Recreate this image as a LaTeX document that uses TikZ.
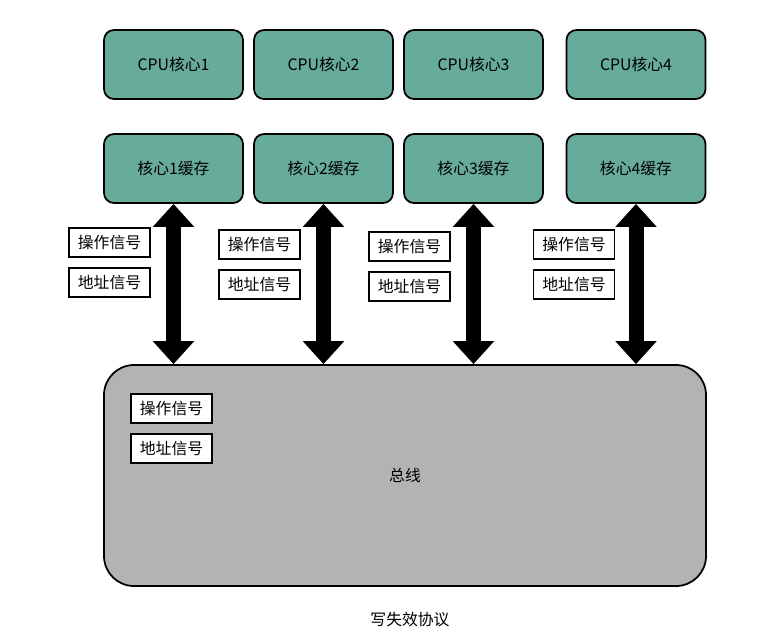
\documentclass[tikz,border=0pt]{standalone}
\usepackage{fontspec}
\newfontfamily\cjk{Noto Sans CJK SC}
\usetikzlibrary{arrows.meta}
\definecolor{coregreen}{HTML}{67AB9A}
\definecolor{busgray}{HTML}{B3B3B3}
\tikzset{
  core/.style={draw, line width=1pt, rounded corners=0.2cm, fill=coregreen,
    minimum width=2.78cm, minimum height=1.38cm, inner sep=0pt},
  sig/.style={draw, line width=1pt, fill=white,
    minimum width=1.62cm, minimum height=0.58cm, inner sep=0pt},
  bus/.style={draw, line width=1pt, rounded corners=0.6cm, fill=busgray,
    minimum width=12.04cm, minimum height=4.42cm, inner sep=0pt},
  bigarrow/.style={line width=0.3cm,
    {Triangle[width=0.8cm,length=0.46cm]}-{Triangle[width=0.8cm,length=0.46cm]}}
}
\begin{document}
\begin{tikzpicture}[font=\cjk\fontsize{9}{11}\selectfont]
    \useasboundingbox (0,0) rectangle (15.5,-12.86);
    % Define node positions
    \node[core] (P1) at (3.47, -1.29) {CPU核心1}; \node[core] (P2) at (6.47, -1.29) {CPU核心2};
    \node[core] (P3) at (9.47, -1.29) {CPU核心3}; \node[core] (P4) at (12.72, -1.29) {CPU核心4};
    \node[core] (C1) at (3.47, -3.37) {核心1缓存}; \node[core] (C2) at (6.47, -3.37) {核心2缓存};
    \node[core] (C3) at (9.47, -3.37) {核心3缓存}; \node[core] (C4) at (12.72, -3.37) {核心4缓存};
    \node[bus] (B) at (8.10, -9.51) {总线};

    % Signals
    \node[sig] (O1) at (2.19, -4.85) {操作信号}; \node[sig] (A1) at (2.19, -5.65) {地址信号};
    \node[sig] (O2) at (5.19, -4.89) {操作信号}; \node[sig] (A2) at (5.19, -5.69) {地址信号};
    \node[sig] (O3) at (8.19, -4.93) {操作信号}; \node[sig] (A3) at (8.19, -5.73) {地址信号};
    \node[sig] (O4) at (11.48, -4.89) {操作信号}; \node[sig] (A4) at (11.48, -5.69) {地址信号};
    \node[sig] (OB) at (3.43, -8.17) {操作信号}; \node[sig] (AB) at (3.43, -8.97) {地址信号};

    % Draw arrows
    \draw[bigarrow] (C1.south) -- (C1.south |- B.north);
    \draw[bigarrow] (C2.south) -- (C2.south |- B.north);
    \draw[bigarrow] (C3.south) -- (C3.south |- B.north);
    \draw[bigarrow] (C4.south) -- (C4.south |- B.north);

    % Caption
    \node (T) at (8.2, -12.4) {写失效协议};
\end{tikzpicture}
\end{document}
